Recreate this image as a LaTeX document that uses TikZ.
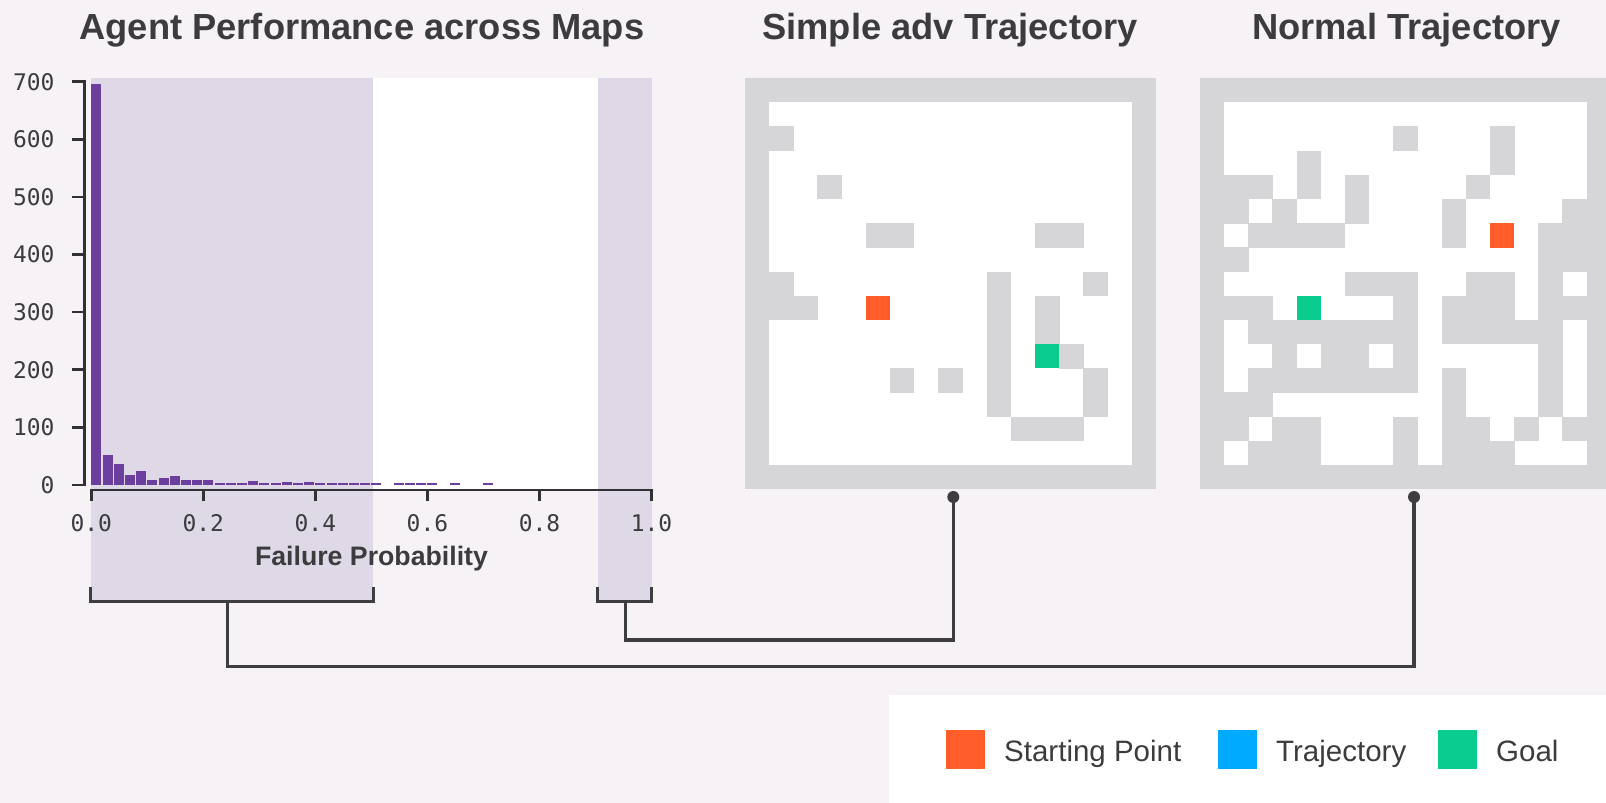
\documentclass[tikz,border=0pt]{standalone}
\usepackage{fontspec}
\setmainfont{Liberation Sans}
\newfontfamily\monof{DejaVu Sans Mono}
\definecolor{bg}{RGB}{246,242,246}
\definecolor{shadec}{RGB}{223,216,230}
\definecolor{barc}{RGB}{108,62,158}
\definecolor{wall}{RGB}{214,214,216}
\definecolor{startc}{RGB}{255,94,42}
\definecolor{goalc}{RGB}{10,204,142}
\definecolor{trajc}{RGB}{0,170,255}
\definecolor{ink}{RGB}{62,62,64}
\definecolor{axisc}{RGB}{50,50,52}
\definecolor{txt}{RGB}{60,60,62}
\begin{document}
\begin{tikzpicture}[x=1pt,y=-1pt,
  conn/.style={draw=ink,line width=3.3pt},
  axisline/.style={draw=axisc,line width=2.6pt},
  title/.style={font=\fontsize{36.3}{40}\selectfont\bfseries,text=txt,inner sep=0,anchor=base},
  ylab/.style={font=\monof\fontsize{22.9}{25}\selectfont,text=txt,inner sep=0,anchor=base east},
  xlab/.style={font=\monof\fontsize{22.9}{25}\selectfont,text=txt,inner sep=0,anchor=base},
  legtext/.style={font=\fontsize{29.5}{32}\selectfont,text=txt,inner sep=0,anchor=base west},
  legsq/.style={minimum width=39pt,minimum height=39pt,inner sep=0,anchor=north west},
  mazebox/.style={fill=wall,minimum width=411pt,minimum height=411pt,inner sep=0,outer sep=0,anchor=north west},
  dotn/.style={circle,fill=ink,minimum size=12pt,inner sep=0}]
\useasboundingbox (0,0) rectangle (1606,803);
\fill[bg] (0,0) rectangle (1606,803);

% ---------- histogram ----------
\fill[white] (373,78.3) rectangle (597.5,490);
\fill[shadec] (91.3,78.3) rectangle (373,601.7);
\fill[shadec] (597.5,78.3) rectangle (651.5,601.7);
\foreach \k/\v in {0/697,1/52,2/36,3/18,4/25,5/8,6/13,7/16,8/9,9/8,10/8,11/4,12/4,13/3,14/7,15/2,16/2,17/5,18/4,19/6,20/3,21/3,22/2,23/1,24/1,25/3,27/1,28/2,29/2,30/1,32/4,35/2}{
  \pgfmathsetmacro{\xa}{91.3+\k*11.204}
  \pgfmathsetmacro{\h}{max(\v*0.5757,1.8)}
  \fill[barc] (\xa,485) rectangle ++(10.0,-\h);
}
% y axis
\draw[axisline] (71.5,81.7) -- (84.2,81.7) -- (84.2,485) -- (71.5,485);
\foreach \t in {1,...,6}{
  \draw[axisline] (71.5,485-\t*57.61) -- (84.2,485-\t*57.61);
}
\node[ylab] (yl0) at (54.7,485+8.3) {0};
\foreach \t in {1,...,7}{
  \node[ylab] (yl\t) at (54.7,485-\t*57.61+8.3) {\t00};
}
% x axis
\draw[axisline] (91.3,501) -- (91.3,490) -- (651.5,490) -- (651.5,501);
\foreach \t in {1,...,4}{
  \draw[axisline] (91.3+\t*112.04,490) -- (91.3+\t*112.04,501);
}
\foreach \t/\l in {0/0.0,1/0.2,2/0.4,3/0.6,4/0.8,5/1.0}{
  \node[xlab] (xl\t) at (91.3+\t*112.04,531.7) {\l};
}
\node[font=\fontsize{26.7}{30}\selectfont\bfseries,text=txt,inner sep=0,anchor=base] (xtitle) at (371.5,565) {Failure Probability};
\node[title] (t1) at (362,39.3) {Agent Performance across Maps};

% ---------- maze 1 ----------
\node[mazebox] (maze1) at (745,78.3) {};
\begin{scope}[shift={(745,78.3)}]
  \fill[white] (24.176,24.176) rectangle (386.82,386.82);
  \foreach \c/\r in {1/2,3/4,5/6,6/6,12/6,13/6,1/8,10/8,14/8,1/9,2/9,10/9,12/9,10/10,12/10,10/11,13/11,6/12,8/12,10/12,14/12,10/13,14/13,11/14,12/14,13/14}{
    \fill[wall] (\c*24.176-0.2,\r*24.176-0.2) rectangle ++(24.576,24.576);
  }
  \fill[startc] (5*24.176,9*24.176) rectangle ++(24.176,24.176);
  \fill[goalc] (12*24.176,11*24.176) rectangle ++(24.176,24.176);
\end{scope}
\node[title] (t2) at (950,39.3) {Simple adv Trajectory};

% ---------- maze 2 ----------
\node[mazebox] (maze2) at (1200,78.3) {};
\begin{scope}[shift={(1200,78.3)}]
  \fill[white] (24.176,24.176) rectangle (386.82,386.82);
  \foreach \c/\r in {8/2,12/2,4/3,12/3,1/4,2/4,4/4,6/4,11/4,1/5,3/5,6/5,10/5,15/5,2/6,3/6,4/6,5/6,10/6,14/6,15/6,1/7,14/7,15/7,6/8,7/8,8/8,11/8,12/8,14/8,1/9,2/9,8/9,10/9,11/9,12/9,14/9,15/9,2/10,3/10,4/10,5/10,6/10,7/10,8/10,10/10,11/10,12/10,13/10,14/10,3/11,5/11,6/11,8/11,14/11,2/12,3/12,4/12,5/12,6/12,7/12,8/12,10/12,14/12,1/13,2/13,10/13,14/13,1/14,3/14,4/14,8/14,10/14,11/14,13/14,15/14,2/15,3/15,4/15,8/15,10/15,11/15,12/15}{
    \fill[wall] (\c*24.176-0.2,\r*24.176-0.2) rectangle ++(24.576,24.576);
  }
  \fill[startc] (12*24.176,6*24.176) rectangle ++(24.176,24.176);
  \fill[goalc] (4*24.176,9*24.176) rectangle ++(24.176,24.176);
\end{scope}
\node[title] (t3) at (1406.5,39.3) {Normal Trajectory};

% ---------- brackets and connectors ----------
\coordinate (bla) at (90.6,586.7);
\coordinate (blb) at (373.8,586.7);
\coordinate (blm) at (227.2,601.7);
\coordinate (blk) at (227.2,666.7);
\coordinate (bra) at (597.7,586.7);
\coordinate (brb) at (651.3,586.7);
\coordinate (brm) at (625.3,601.7);
\coordinate (brk) at (625.3,640);
\node[dotn] (dot1) at (953.3,497) {};
\node[dotn] (dot2) at (1414,497) {};
\draw[conn] (bla) |- (blb |- blm) -- (blb);
\draw[conn] (bra) |- (brb |- brm) -- (brb);
\draw[conn] (blm) -- (blk) -| (dot2.center);
\draw[conn] (brm) -- (brk) -| (dot1.center);

% ---------- legend ----------
\fill[white] (889,695) rectangle (1606,803);
\node[legsq,fill=startc] (ls) at (946,729.3) {};
\node[legtext] (lst) at (1004,761) {Starting Point};
\node[legsq,fill=trajc] (lt) at (1218,729.3) {};
\node[legtext] (ltt) at (1276,761) {Trajectory};
\node[legsq,fill=goalc] (lg) at (1438,729.3) {};
\node[legtext] (lgt) at (1496,761) {Goal};
\end{tikzpicture}
\end{document}
